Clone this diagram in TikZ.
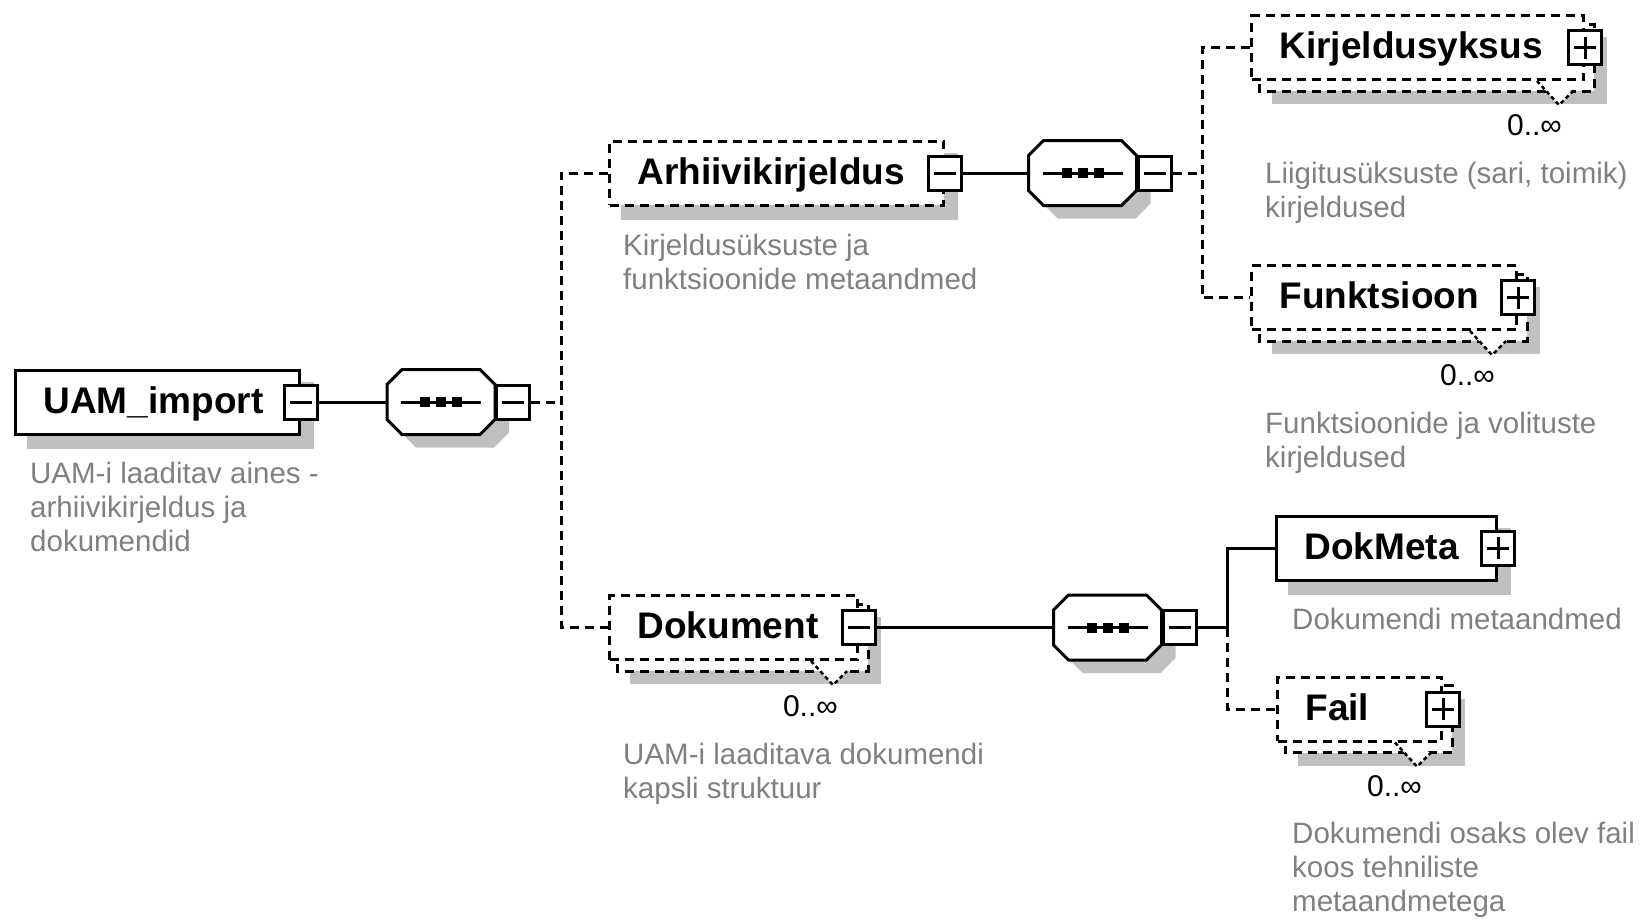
\documentclass[tikz,border=0pt]{standalone}
\usepackage{fontspec}
\setmainfont{Liberation Sans}
\usetikzlibrary{calc}
\usetikzlibrary{backgrounds}
\definecolor{descgray}{RGB}{128,128,128}
\definecolor{shadegray}{RGB}{192,192,192}
\tikzset{
	elem/.style = {draw, fill = white, line width = 3pt, anchor = west, align = left, inner xsep = 28pt, inner ysep = 0pt, minimum height = 64pt, text height = 28pt, text depth = 6pt, font = {\fontsize{37pt}{44pt}\selectfont\bfseries}},
	optional/.style = {dash pattern = on 9pt off 6pt},
	togglebox/.style = {draw, solid, fill = white, line width = 3pt, minimum width = 33pt, minimum height = 34pt, inner sep = 0pt},
	minusbox/.style = {togglebox, path picture = {\draw[line width = 3pt] ([xshift = -11pt]path picture bounding box.center) -- ([xshift = 11pt]path picture bounding box.center);}},
	plusbox/.style = {togglebox, path picture = {\draw[line width = 3pt] ([xshift = -11pt]path picture bounding box.center) -- ([xshift = 11pt]path picture bounding box.center) ([yshift = -11pt]path picture bounding box.center) -- ([yshift = 11pt]path picture bounding box.center);}},
	desc/.style = {anchor = base west, align = left, text = descgray, inner sep = 0pt, font = {\fontsize{29.5pt}{34pt}\selectfont}},
	occurs/.style = {anchor = base east, inner sep = 0pt, font = {\fontsize{30pt}{34pt}\selectfont}},
	conn/.style = {line width = 3pt},
	seqspot/.style = {minimum width = 108pt, minimum height = 65pt, inner sep = 0pt}
}

\begin{document}
\begin{tikzpicture}[x = 1pt, y = -1pt]
\useasboundingbox (0, 0) rectangle (1646, 919);

\node[elem, text width = 228pt] (UAM) at (14, 402) {UAM\_import};
\node[elem, optional, text width = 278pt] (Arhiiv) at (608, 173) {Arhiivikirjeldus};
\node[elem, optional, text width = 276pt] (Kirj) at (1250, 47.5) {Kirjeldusyksus};
\node[elem, optional, text width = 209pt] (Funk) at (1250, 297.5) {Funktsioon};
\node[elem, optional, text width = 192pt] (Dok) at (608, 627.5) {Dokument};
\node[elem, text width = 164pt] (DokMeta) at (1275, 548) {DokMeta};
\node[elem, optional, text width = 108pt] (Fail) at (1276, 709) {Fail};

\node[minusbox] (UAMtog) at (UAM.east) {};
\node[minusbox] (Arhiivtog) at (Arhiiv.east) {};
\node[plusbox] (Kirjtog) at (Kirj.east) {};
\node[plusbox] (Funktog) at (Funk.east) {};
\node[minusbox] (Doktog) at (Dok.east) {};
\node[plusbox] (DokMetatog) at (DokMeta.east) {};
\node[plusbox] (Failtog) at (Fail.east) {};

% sequence compositors
\foreach \n/\cx/\cy in {UAMseq/441/402, Arhiivseq/1082.5/173, Dokseq/1107.5/627.5} {
	\begin{scope}[shift = {(\cx, \cy)}]
	\fill[shadegray, shift = {(14, 13)}] (-39, -32.5) -- (39, -32.5) -- (54, -17.5) -- (54, 17.5) -- (39, 32.5) -- (-39, 32.5) -- (-54, 17.5) -- (-54, -17.5) -- cycle;
	\draw[line width = 3pt, fill = white] (-39, -32.5) -- (39, -32.5) -- (54, -17.5) -- (54, 17.5) -- (39, 32.5) -- (-39, 32.5) -- (-54, 17.5) -- (-54, -17.5) -- cycle;
	\draw[line width = 3pt] (-40, 0) -- (40, 0);
	\foreach \d in {-16, 0, 16}
		\fill (\d - 5, -5) rectangle (\d + 5, 5);
	\node[seqspot] (\n) at (0, 0) {};
	\end{scope}
	\node[minusbox, anchor = west] (\n-tog) at (\n.east) {};
}

\coordinate (UAMjoin) at (561, 402);
\coordinate (Arhiivjoin) at (1202, 173);
\coordinate (Dokjoin) at (1227, 627.5);

\draw[conn] (UAMtog) -- (UAMseq);
\draw[conn, optional] (UAMseq-tog) -- (UAMjoin);
\draw[conn, optional] (Arhiiv) -| (UAMjoin) |- (Dok);

\draw[conn] (Arhiivtog) -- (Arhiivseq);
\draw[conn, optional] (Arhiivseq-tog) -- (Arhiivjoin);
\draw[conn, optional] (Kirj) -| (Arhiivjoin) |- (Funk);

\draw[conn] (Doktog) -- (Dokseq);
\draw[conn] (Dokseq-tog) -- (Dokjoin);
\draw[conn] (DokMeta) -| (Dokjoin);
\draw[conn, optional] (Dokjoin) |- (Fail);

% occurrences
\node[occurs] (Kirjocc) at (1562, 135) {0..∞};
\node[occurs] (Funkocc) at (1495, 385) {0..∞};
\node[occurs] (Dokocc) at (838, 716) {0..∞};
\node[occurs] (Failocc) at (1422, 796) {0..∞};

% annotations (placed at the baseline of their last line)
\node[desc] (UAMdesc) at (30, 551) {UAM-i laaditav aines -\\arhiivikirjeldus ja\\dokumendid};
\node[desc] (Arhiivdesc) at (623, 289) {Kirjeldusüksuste ja\\funktsioonide metaandmed};
\node[desc] (Kirjdesc) at (1265, 217) {Liigitusüksuste (sari, toimik)\\kirjeldused};
\node[desc] (Funkdesc) at (1265, 467) {Funktsioonide ja volituste\\kirjeldused};
\node[desc] (Dokdesc) at (623, 798) {UAM-i laaditava dokumendi\\kapsli struktuur};
\node[desc] (DokMetadesc) at (1292, 629) {Dokumendi metaandmed};
\node[desc] (Faildesc) at (1292, 911) {Dokumendi osaks olev fail\\koos tehniliste\\metaandmetega};

\begin{scope}[on background layer]
\foreach \n in {UAM, Arhiiv, DokMeta}
	\fill[shadegray] ([shift = {(13, 13)}]\n.north west) rectangle ([shift = {(13, 13)}]\n.south east);
\foreach \n in {Kirj, Funk, Dok, Fail} {
	\fill[shadegray] ([shift = {(22, 23)}]\n.north west) rectangle ([shift = {(22, 23)}]\n.south east);
	\draw[line width = 3pt, optional, fill = white] ([shift = {(9, 10)}]\n.north west) rectangle ([shift = {(9, 10)}]\n.south east);
	\fill[white] ([shift = {(-48, 0)}]\n.south east) -- ([shift = {(-26, 24)}]\n.south east) -- ([shift = {(-12, 10)}]\n.south east) -- cycle;
	\draw[line width = 2.5pt, dash pattern = on 4pt off 3pt] ([shift = {(-48, 0)}]\n.south east) -- ([shift = {(-26, 24)}]\n.south east) -- ([shift = {(-12, 10)}]\n.south east);
}
\end{scope}
\end{tikzpicture}
\end{document}
